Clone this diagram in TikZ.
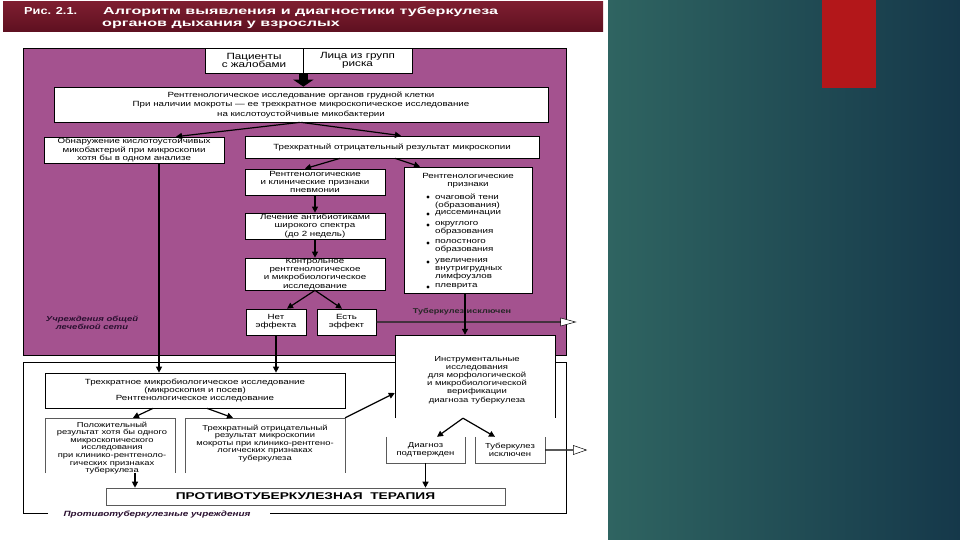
\documentclass[tikz,border=0pt]{standalone}
\usepackage{fontspec}
\setmainfont{Liberation Sans}
\newfontfamily\bxfont[FakeStretch=1.3]{Liberation Sans}
\newfontfamily\tlfont[FakeStretch=1.58]{Liberation Sans}
\newfontfamily\tzfont[FakeStretch=1.25]{Liberation Sans}
\newfontfamily\thfont[FakeStretch=1.4]{Liberation Sans}
\usetikzlibrary{arrows.meta,shapes.arrows,calc}
\definecolor{mag}{HTML}{A4528F}
\definecolor{maroonA}{HTML}{7E1E30}
\definecolor{maroonB}{HTML}{5E1020}
\definecolor{tealA}{HTML}{2F6461}
\definecolor{tealB}{HTML}{15384A}
\definecolor{redbar}{HTML}{B3171A}
\definecolor{gline}{HTML}{5A5A5A}
\definecolor{darklbl}{HTML}{2A1030}
\tikzset{
 bx/.style={draw=black, line width=0.7pt, fill=white, align=center, inner sep=0pt, font=\bxfont\fontsize{7.5}{8.3}\selectfont},
 ob/.style={fill=white, align=center, inner sep=0pt, font=\bxfont\fontsize{7.2}{7.6}\selectfont},
 txt/.style={align=left, inner sep=0pt, font=\bxfont\fontsize{7.5}{8.1}\selectfont},
 thinl/.style={draw=gline, line width=0.6pt},
 arr/.style={draw=black, line width=1.2pt, -{Triangle[length=6pt,width=6pt]}},
 hollow/.style={single arrow, draw=black, fill=white, line width=0.5pt, inner sep=0pt, single arrow head extend=2.5pt},
 dotm/.style={circle, fill=black, inner sep=0pt, minimum size=3.4pt},
 lbl/.style={font=\bxfont\bfseries\itshape\fontsize{7.3}{8}\selectfont, align=center, inner sep=0pt, text=darklbl},
 ttl/.style={anchor=base west, inner sep=0, text=white, font=\tlfont\bfseries\fontsize{10.2}{12}\selectfont},
}
\begin{document}
\begin{tikzpicture}[x=1pt,y=-1pt]
\useasboundingbox (0,0) rectangle (960,540);
\fill[white] (0,0) rectangle (608,540);
\shade[left color=tealA, right color=tealB] (608,0) rectangle (960,540);
\fill[redbar] (822,0) rectangle (876,88);
% title bar
\shade[top color=maroonA, bottom color=maroonB] (3,2) rectangle (603,32);
\node[ttl, font=\tzfont\bfseries\fontsize{10.2}{12}\selectfont] (t0) at (24,14.5) {Рис. 2.1.};
\node[ttl] (t1) at (103,14.5) {Алгоритм выявления и диагностики туберкулеза};
\node[ttl] (t2) at (102,27) {органов дыхания у взрослых};
% regions
\fill[mag] (23,48) rectangle (566,355);
\draw[black, line width=0.8pt] (23,48) rectangle (566,355);
\draw[black, line width=0.9pt] (48,513) -- (23,513) -- (23,362) -- (566,362) -- (566,513) -- (270,513);
\node[lbl, font=\bxfont\bfseries\itshape\fontsize{7.6}{8}\selectfont] (antitb) at (157,514) {Противотуберкулезные учреждения};
\node[lbl] (general) at (92,323) {Учреждения общей\\лечебной сети};
% top boxes
\node[bx, font=\bxfont\fontsize{9}{8.6}\selectfont, minimum width=98pt, minimum height=25pt] (pac) at (254,60.5) {Пациенты\\с жалобами};
\node[bx, font=\bxfont\fontsize{9}{8.6}\selectfont, minimum width=109pt, minimum height=25pt] (risk) at (357.5,60.5) {Лица из групп\\риска};
\node[bx, font=\bxfont\fontsize{7.5}{9.5}\selectfont, minimum width=494pt, minimum height=35pt] (main) at (301,104.5) {Рентгенологическое исследование органов грудной клетки\\При наличии мокроты — ее трехкратное микроскопическое исследование\\на кислотоустойчивые микобактерии};
\node[bx, minimum width=180pt, minimum height=26pt] (detect) at (134,150) {Обнаружение кислотоустойчивых\\микобактерий при микроскопии\\хотя бы в одном анализе};
\node[bx, minimum width=294pt, minimum height=22pt] (neg3) at (392,147) {Трехкратный отрицательный результат микроскопии};
\node[bx, minimum width=140pt, minimum height=26pt] (pneu) at (315,182) {Рентгенологические\\и клинические признаки\\пневмонии};
\node[bx, minimum width=140pt, minimum height=26pt] (abx) at (315,226) {Лечение антибиотиками\\широкого спектра\\(до 2 недель)};
\node[bx, minimum width=140pt, minimum height=32pt] (ctrl) at (315,274) {Контрольное\\рентгенологическое\\и микробиологическое\\исследование};
\node[bx, minimum width=60pt, minimum height=26pt] (noeff) at (276,322) {Нет\\эффекта};
\node[bx, minimum width=59pt, minimum height=26pt] (eff) at (346.5,322) {Есть\\эффект};
% signs box
\node[bx, minimum width=128pt, minimum height=126pt] (signs) at (468,230) {};
\node[txt, align=center, anchor=north] (sh) at (468,173) {Рентгенологические\\признаки};
\node[txt, anchor=north west] (s1) at (435,193.5) {очаговой тени\\(образования)};
\node[txt, anchor=north west] (s2) at (435,210.5) {диссеминации};
\node[txt, anchor=north west] (s3) at (435,221.5) {округлого\\образования};
\node[txt, anchor=north west] (s4) at (435,239.5) {полостного\\образования};
\node[txt, anchor=north west] (s5) at (435,258.5) {увеличения\\внутригрудных\\лимфоузлов};
\node[txt, anchor=north west] (s6) at (435,283.5) {плеврита};
\node[dotm] (b1) at (428,197) {};
\node[dotm] (b2) at (428,214) {};
\node[dotm] (b3) at (428,225) {};
\node[dotm] (b4) at (428,243) {};
\node[dotm] (b5) at (428,262) {};
\node[dotm] (b6) at (428,287) {};
% lower part
\node[ob, minimum width=160pt, minimum height=83pt] (instr) at (475,376.5) {};
\node[ob, font=\bxfont\fontsize{7.3}{8.1}\selectfont] (instrT) at (477,380) {Инструментальные\\исследования\\для морфологической\\и микробиологической\\верификации\\диагноза туберкулеза};
\draw[thinl, draw=black] (instr.south west) -- (instr.north west) -- (instr.north east) -- (instr.south east);
\node[bx, minimum width=300pt, minimum height=35pt] (lowmain) at (195,390.5) {Трехкратное микробиологическое исследование\\(микроскопия и посев)\\Рентгенологическое исследование};
\node[ob, minimum width=130pt, minimum height=55pt] (pos) at (110,445.5) {};
\node[ob, anchor=north] (posT) at (112,421.5) {Положительный\\результат хотя бы одного\\микроскопического\\исследования\\при клинико-рентгеноло-\\гических признаках\\туберкулеза};
\draw[thinl] (pos.south west) -- (pos.north west) -- (pos.north east) -- (pos.south east);
\node[ob, minimum width=160pt, minimum height=55pt] (negb) at (265,445.5) {};
\node[ob, anchor=north] (negbT) at (265,424.5) {Трехкратный отрицательный\\результат микроскопии\\мокроты при клинико-рентгено-\\логических признаках\\туберкулеза};
\draw[thinl] (negb.south west) -- (negb.north west) -- (negb.north east) -- (negb.south east);
\node[ob, font=\bxfont\fontsize{7.3}{8.1}\selectfont, minimum width=79pt, minimum height=26pt] (diag) at (425.5,450) {Диагноз\\подтвержден};
\draw[thinl] (diag.north west) -- (diag.south west) -- (diag.south east) -- (diag.north east);
\node[ob, font=\bxfont\fontsize{7.3}{8.1}\selectfont, minimum width=70pt, minimum height=26pt] (excl) at (510,450) {Туберкулез\\исключен};
\draw[thinl] (excl.north west) -- (excl.south west) -- (excl.south east) -- (excl.north east);
\node[ob, draw=gline, line width=0.6pt, minimum width=399pt, minimum height=17pt, font=\thfont\bfseries\fontsize{9.8}{10}\selectfont] (ther) at (305.5,496.5) {ПРОТИВОТУБЕРКУЛЕЗНАЯ\ \ ТЕРАПИЯ};
% connectors
\draw[line width=9pt, -{Triangle[length=7pt,width=20pt]}] (pac.south east) -- (pac.south east |- main.north);
\draw[arr] ([xshift=-1pt]main.south) -- ([xshift=42pt]detect.north);
\draw[arr] (main.south) -- ([xshift=9pt]neg3.north);
\draw[arr] ([xshift=-52pt]neg3.south) -- ([xshift=-10pt]pneu.north);
\draw[arr] ([xshift=3pt]neg3.south) -- ([xshift=-48pt]signs.north);
\draw[arr] (pneu.south) -- (abx.north);
\draw[arr] (abx.south) -- (ctrl.north);
\draw[arr] (ctrl.south) -- ([xshift=11pt]noeff.north);
\draw[arr] (ctrl.south) -- ([xshift=-4.5pt]eff.north);
\node[hollow, anchor=tail, minimum height=199pt, minimum width=8pt, single arrow tip angle=30] (out1) at (eff.east) {};
\node[lbl, font=\bxfont\bfseries\fontsize{7}{8}\selectfont, text=black!85] (exlbl) at (462,312) {Туберкулез исключен};
\coordinate (sg) at ([xshift=-3pt]signs.south);
\draw[arr] (sg) -- (sg |- instr.north);
\coordinate (d1) at ([xshift=25pt]detect.south);
\draw[arr] (d1) -- (d1 |- lowmain.north);
\draw[arr] (noeff.south) -- (noeff.south |- lowmain.north);
\draw[arr] ([xshift=-42pt]lowmain.south) -- ([xshift=23pt]pos.north);
\draw[arr] ([xshift=12pt]lowmain.south) -- ([xshift=-32pt]negb.north);
\coordinate (p1) at ([xshift=25pt]pos.south);
\draw[arr] (p1) -- (p1 |- ther.north);
\draw[arr] (negb.north east) -- ([yshift=-16.5pt]instr.west);
\draw[arr] ([xshift=-12pt]instr.south) -- ([xshift=11.5pt]diag.north);
\draw[arr] ([xshift=-12pt]instr.south) -- ([xshift=-15pt]excl.north);
\draw[arr] (diag.south) -- (diag.south |- ther.north);
\node[hollow, anchor=tail, minimum height=41pt, minimum width=9pt, single arrow tip angle=38] (out2) at (excl.east) {};
\end{tikzpicture}
\end{document}
